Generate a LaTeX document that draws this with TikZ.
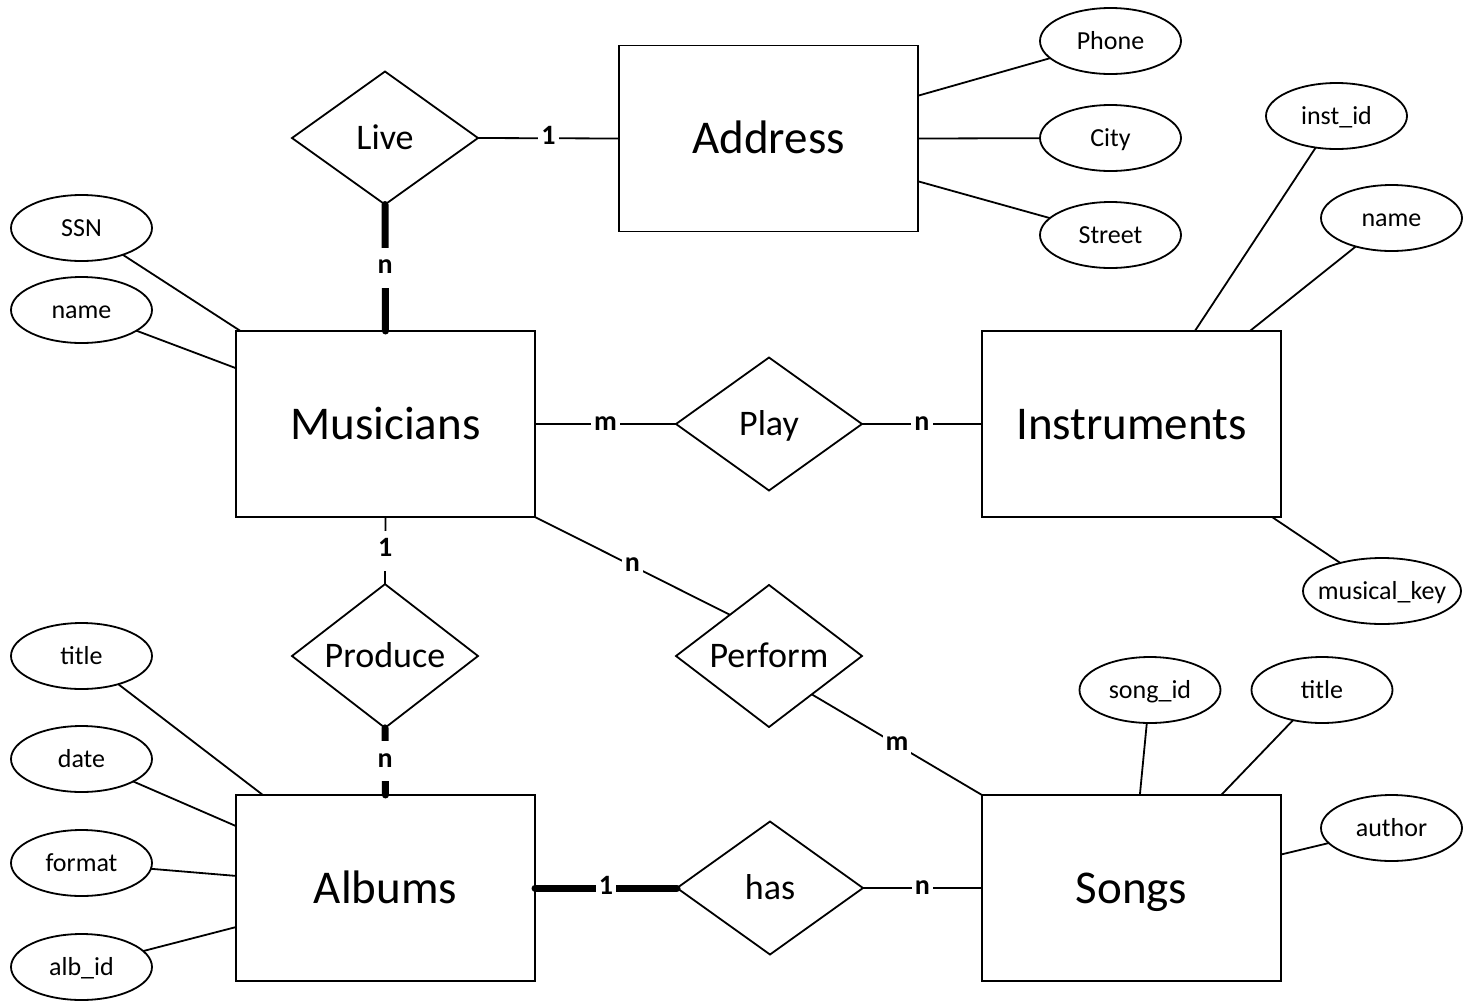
\documentclass[tikz,border=0pt]{standalone}
\usepackage{fontspec}
\setmainfont{Carlito}
\usetikzlibrary{shapes.geometric,calc}
\newcommand\attrtext[1]{\makebox[0pt]{#1}}
\begin{document}
\begin{tikzpicture}[x=0.5pt,y=-0.5pt,
  every node/.style={outer sep=0pt},
  entity/.style={draw,line width=0.9pt,minimum width=149.5pt,minimum height=93pt,inner sep=0pt,
    text height=15.1pt,text depth=0pt,font=\fontsize{23.5}{28}\selectfont},
  relation/.style={draw,diamond,line width=0.9pt,minimum width=93pt,minimum height=66.5pt,inner sep=0pt,
    text height=11.6pt,text depth=0pt,font=\fontsize{18}{22}\selectfont},
  attr/.style={draw,ellipse,line width=0.9pt,minimum width=70.5pt,minimum height=33pt,inner sep=0pt,
    text height=8.4pt,text depth=0pt,font=\fontsize{13}{16}\selectfont},
  conn/.style={line width=0.9pt},
  heavy/.style={line width=3.5pt,line cap=round},
  card/.style={fill=white,inner xsep=1.5pt,inner ysep=3pt,text height=10pt,text depth=4pt,font=\fontsize{14}{16}\selectfont\bfseries}]

\useasboundingbox[fill=white] (0,0) rectangle (1464,1002);

% entities
\node[entity] (addr) at (768.5,138.5) {Address};
\node[entity] (mus)  at (385.5,424) {Musicians};
\node[entity] (inst) at (1131.5,424) {Instruments};
\node[entity] (alb)  at (385.5,888) {Albums};
\node[entity] (song) at (1131.5,888) {Songs};

% relationships
\node[relation] (live) at (385,138) {Live};
\node[relation] (play) at (769,424) {Play};
\node[relation] (prod) at (385,656) {Produce};
\node[relation] (perf) at (769,656) {Perform};
\node[relation] (has)  at (770,888) {has};

% attributes
\node[attr] (phone)  at (1110.5,41)  {\attrtext{Phone}};
\node[attr] (city)   at (1110.5,138) {\attrtext{City}};
\node[attr] (street) at (1110.5,235) {\attrtext{Street}};
\node[attr] (instid) at (1336.5,116) {\attrtext{inst\_id}};
\node[attr] (iname)  at (1391.5,218) {\attrtext{name}};
\node[attr,minimum width=79pt] (mkey) at (1382,591) {\attrtext{musical\_key}};
\node[attr] (ssn)    at (81.5,228) {\attrtext{SSN}};
\node[attr] (mname)  at (81.5,310) {\attrtext{name}};
\node[attr] (atitle) at (81.5,656) {\attrtext{title}};
\node[attr] (adate)  at (81.5,759) {\attrtext{date}};
\node[attr] (aform)  at (81.5,863) {\attrtext{format}};
\node[attr] (aid)    at (81.5,967) {\attrtext{alb\_id}};
\node[attr] (sid)    at (1150,690) {\attrtext{song\_id}};
\node[attr] (stitle) at (1322,690) {\attrtext{title}};
\node[attr] (sauth)  at (1391.5,828) {\attrtext{author}};

% attribute links
\draw[conn] (phone)  -- ($(addr.north east)!0.27!(addr.south east)$);
\draw[conn] (city)   -- (addr.east);
\draw[conn] (street) -- ($(addr.north east)!0.73!(addr.south east)$);
\draw[conn] (instid) -- ($(inst.north west)!0.712!(inst.north east)$);
\draw[conn] (iname)  -- ($(inst.north west)!0.896!(inst.north east)$);
\draw[conn] (mkey)   -- ($(inst.south west)!0.97!(inst.south east)$);
\draw[conn] (ssn)    -- ($(mus.north west)!0.015!(mus.north east)$);
\draw[conn] (mname)  -- ($(mus.north west)!0.2!(mus.south west)$);
\draw[conn] (atitle) -- ($(alb.north west)!0.09!(alb.north east)$);
\draw[conn] (adate)  -- ($(alb.north west)!0.167!(alb.south west)$);
\draw[conn] (aform)  -- ($(alb.north west)!0.435!(alb.south west)$);
\draw[conn] (aid)    -- ($(alb.north west)!0.71!(alb.south west)$);
\draw[conn] (sid)    -- ($(song.north west)!0.528!(song.north east)$);
\draw[conn] (stitle) -- ($(song.north west)!0.8!(song.north east)$);
\draw[conn] (sauth)  -- ($(song.north east)!0.32!(song.south east)$);

% relationship links with cardinalities
\draw[conn]  (live.east)  -- node[card] {1} (addr.west);
\draw[heavy] (live.south) -- node[card] {n} (mus.north);
\draw[conn]  (mus.east)   -- node[card] {m} (play.west);
\draw[conn]  (play.east)  -- node[card] {n} (inst.west);
\draw[conn]  (mus.south)  -- node[card] {1} (prod.north);
\draw[heavy] (prod.south) -- node[card] {n} (alb.north);
\draw[conn]  (mus.south east) -- node[card] {n} ($(perf.west)!0.58!(perf.north)$);
\draw[conn]  ($(perf.south)!0.46!(perf.east)$) -- node[card] {m} (song.north west);
\draw[heavy] (alb.east)   -- node[card] {1} (has.west);
\draw[conn]  (has.east)   -- node[card] {n} (song.west);
\end{tikzpicture}
\end{document}
